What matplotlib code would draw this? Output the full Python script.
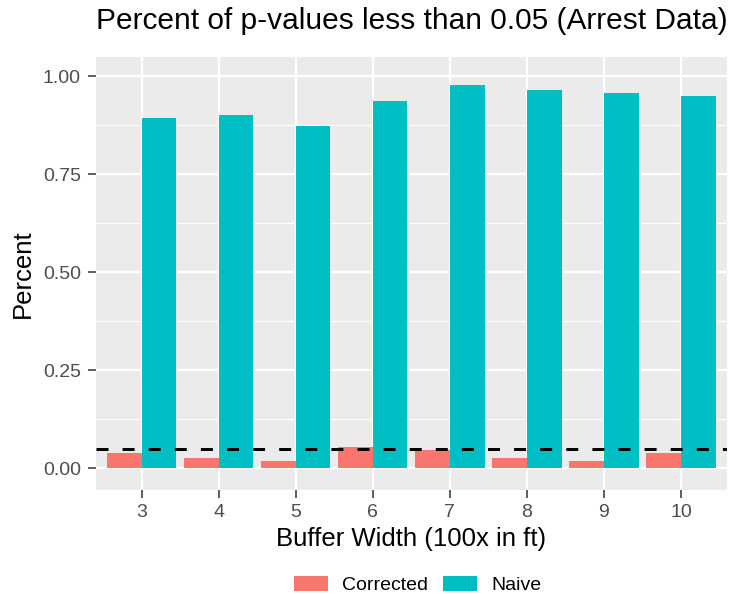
import numpy as np
import matplotlib
matplotlib.use("Agg")
import matplotlib.pyplot as plt
from matplotlib.patches import Patch

plt.rcParams['font.family'] = ['Liberation Sans', 'DejaVu Sans']

# buffer widths (x100 ft) and share of tests with p < 0.05
buffer_width = [3, 4, 5, 6, 7, 8, 9, 10]
corrected = [0.040, 0.026, 0.019, 0.054, 0.047, 0.026, 0.019, 0.040]
naive = [0.894, 0.902, 0.873, 0.936, 0.979, 0.964, 0.957, 0.950]
alpha = 0.05

red = '#F8766D'
teal = '#00BFC4'

W, H = 733, 594
fig = plt.figure(figsize=(W / 100, H / 100), dpi=100)
ax = fig.add_axes([95.5 / W, 1 - 489.7 / H, (727.2 - 95.5) / W, (489.7 - 56.7) / H])
ax.set_facecolor('#EBEBEB')

x = np.arange(len(buffer_width)) + 1
bw = 0.45
ax.bar(x - bw / 2, corrected, width=bw, color=red, zorder=3)
ax.bar(x + bw / 2, naive, width=bw, color=teal, zorder=3)
ax.axhline(alpha, color='black', lw=2.16, linestyle=(0, (4, 4.7)), zorder=4)

ax.set_xlim(0.4, len(x) + 0.6)
ax.set_ylim(-0.0546, 1.05)
ax.set_xticks(x)
ax.set_xticklabels([str(b) for b in buffer_width])
ax.set_yticks([0, 0.25, 0.5, 0.75, 1.0])
ax.set_yticklabels(['0.00', '0.25', '0.50', '0.75', '1.00'])
ax.set_yticks([0.125, 0.375, 0.625, 0.875], minor=True)

ax.grid(which='major', color='white', lw=1.6, zorder=1)
ax.grid(which='minor', axis='y', color='white', lw=0.8, zorder=1)
ax.tick_params(which='major', length=5.5, width=1.1, color='#333333',
               labelsize=14, labelcolor='#4D4D4D', pad=5)
ax.tick_params(which='minor', length=0)
for s in ax.spines.values():
    s.set_visible(False)

ax.set_xlabel('Buffer Width (100x in ft)', fontsize=18.5, labelpad=4)
ax.set_ylabel('Percent', fontsize=18.5, labelpad=6)
fig.text(95.5 / W, 1 - 21 / H, 'Percent of p-values less than 0.05 (Arrest Data)',
         fontsize=21.5, ha='left', va='center')

handles = [Patch(facecolor=red, label='Corrected'), Patch(facecolor=teal, label='Naive')]
fig.legend(handles=handles, loc='center', bbox_to_anchor=(417.5 / W, 1 - 585 / H),
           ncol=2, frameon=False, fontsize=14, handlelength=1.75, handleheight=0.82,
           handletextpad=0.72, columnspacing=0.77)

fig.savefig('out.png', dpi=100)
